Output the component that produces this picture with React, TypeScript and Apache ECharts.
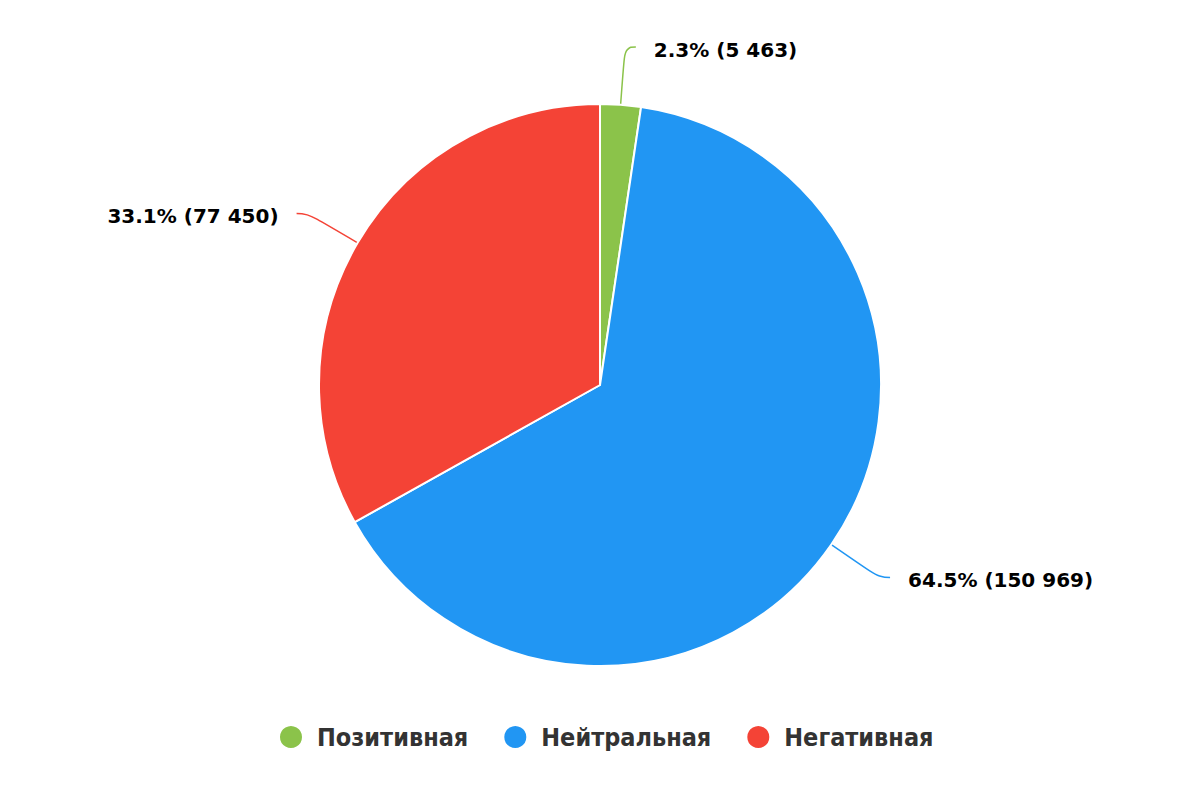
import React, { useEffect, useRef } from "react";
import * as echarts from "echarts";

const categories = ["Позитивная", "Нейтральная", "Негативная"];
const values = [5463, 150969, 77450];
const colors = ["#8BC34A", "#2196F3", "#F44336"];

const total = values.reduce((a, b) => a + b, 0);
const fmtNum = (v: number) => String(v).replace(/\B(?=(\d{3})+(?!\d))/g, " ");

export default function App() {
  const ref = useRef<HTMLDivElement>(null);
  useEffect(() => {
    if (!ref.current) return;
    const chart = echarts.init(ref.current, undefined, { renderer: "svg" });
    chart.setOption({
      animation: false,
      color: colors,
      legend: {
        bottom: 45,
        left: 273,
        icon: "circle",
        itemWidth: 24,
        itemHeight: 24,
        itemGap: 34,
        textStyle: {
          fontFamily: "DejaVu Sans Condensed",
          fontWeight: "bold",
          fontSize: 25,
          color: "#333333",
          padding: [0, 0, 0, 9],
        },
        data: categories,
      },
      series: [
        {
          type: "pie",
          center: [600, 385],
          radius: 281,
          startAngle: 90,
          clockwise: true,
          itemStyle: { borderColor: "#ffffff", borderWidth: 2 },
          label: {
            show: true,
            position: "outside",
            distanceToLabelLine: 18,
            fontFamily: "DejaVu Sans",
            fontWeight: "bold",
            fontSize: 20,
            color: "#000000",
            formatter: (p: any) =>
              `${((p.value / total) * 100).toFixed(1)}% (${fmtNum(p.value)})`,
          },
          labelLayout: { dy: 3 },
          labelLine: {
            show: true,
            length: 58,
            length2: 11,
            smooth: 0.5,
            lineStyle: { width: 1.5 },
          },
          emphasis: { disabled: true },
          data: categories.map((name, i) => ({ name, value: values[i] })),
        },
      ],
    });
    return () => chart.dispose();
  }, []);
  return (
    <div
      ref={ref}
      style={{ position: "fixed", left: 0, top: 0, width: 1200, height: 800, background: "#fff" }}
    />
  );
}
